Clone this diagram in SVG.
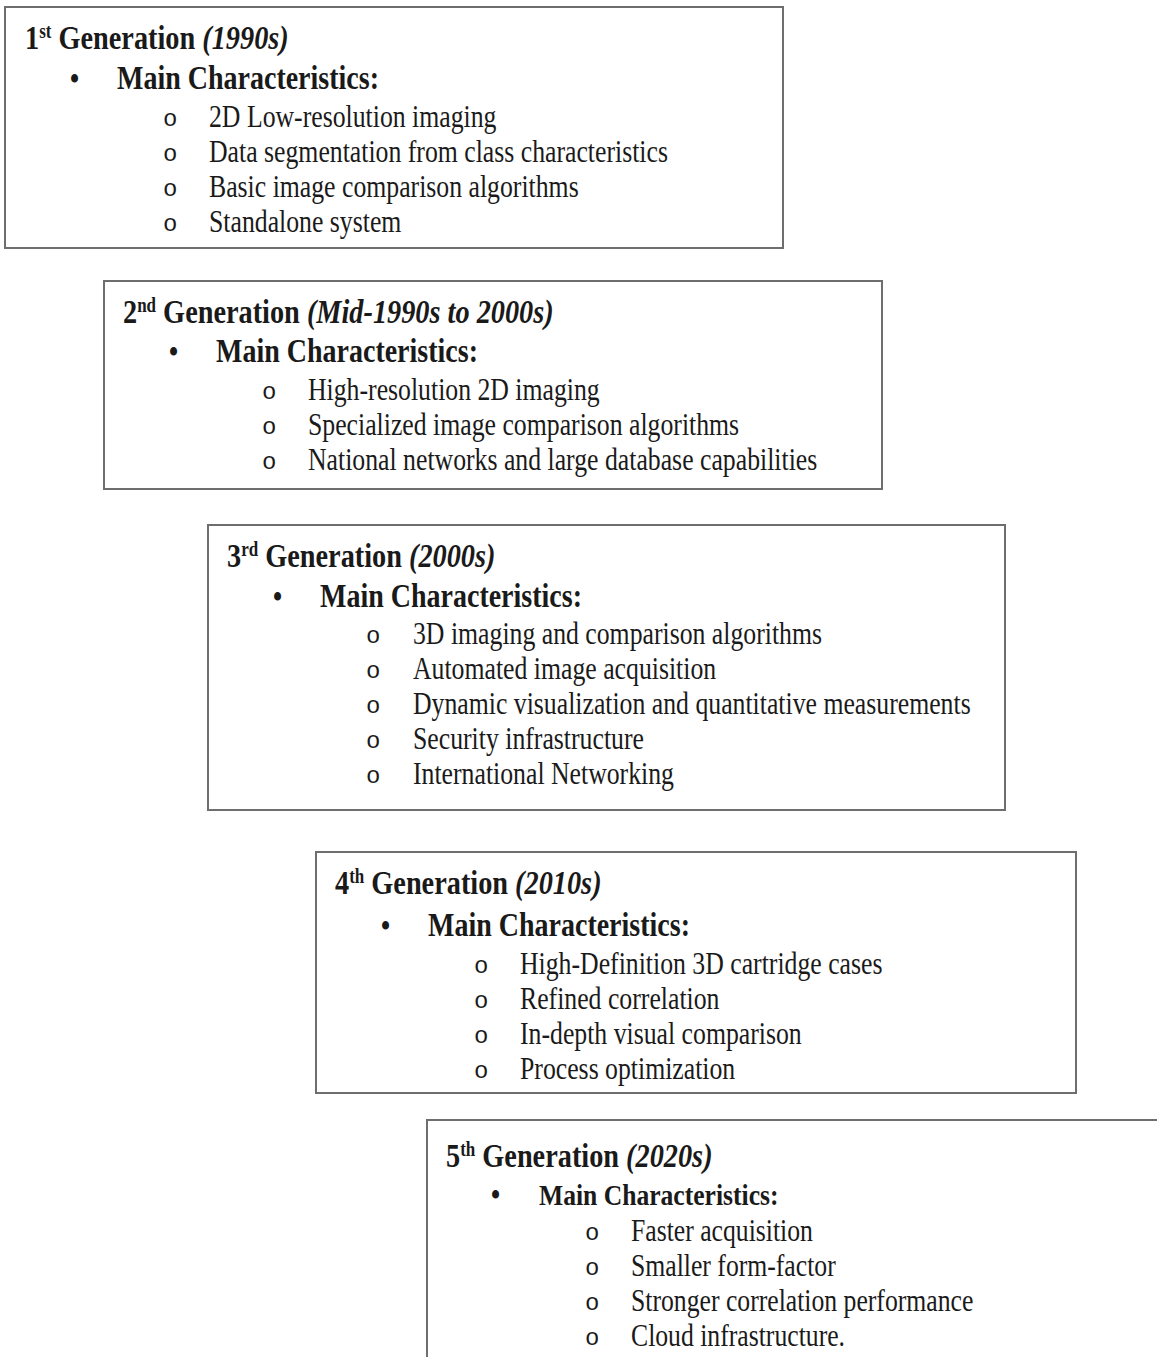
<svg xmlns="http://www.w3.org/2000/svg" width="1157" height="1357" viewBox="0 0 1157 1357">
<style>
.box{fill:#fff;stroke:#6e6e6e;stroke-width:2}
text{font-family:"Liberation Serif","Times New Roman",serif;fill:#1a1a1a}
.t{font-size:28.3px;font-weight:bold}
.i{font-style:italic}
.sup{font-size:17px}
.m{font-size:28px;font-weight:bold}
.b{font-size:25.75px}
.o{font-family:"Liberation Mono","Courier New",monospace;font-size:24px}
.d{font-size:26px;font-weight:bold}
.s5 .m{font-size:25.6px}
.s5 .b{font-size:25.7px}
</style>
<rect width="1157" height="1357" fill="#fff"/>
<g id="gen1">
<rect class="box" x="5" y="7" width="778" height="241"/>
<text class="t" transform="translate(25,49) scale(1,1.19)">1<tspan class="sup" dy="-9">st</tspan><tspan dy="9"> Generation </tspan><tspan class="i">(1990s)</tspan></text>
<text class="d" transform="translate(70,89) scale(1,1.19)">•</text>
<text class="m" transform="translate(117,89) scale(1,1.19)">Main Characteristics:</text>
<text class="o" x="163" y="126">o</text>
<text class="b" transform="translate(209,127) scale(1,1.19)">2D Low-resolution imaging</text>
<text class="o" x="163" y="161">o</text>
<text class="b" transform="translate(209,162) scale(1,1.19)">Data segmentation from class characteristics</text>
<text class="o" x="163" y="196">o</text>
<text class="b" transform="translate(209,197) scale(1,1.19)">Basic image comparison algorithms</text>
<text class="o" x="163" y="231">o</text>
<text class="b" transform="translate(209,232) scale(1,1.19)">Standalone system</text>
</g>
<g id="gen2">
<rect class="box" x="104" y="281" width="778" height="208"/>
<text class="t" transform="translate(123,323) scale(1,1.19)">2<tspan class="sup" dy="-9">nd</tspan><tspan dy="9"> Generation </tspan><tspan class="i">(Mid-1990s to 2000s)</tspan></text>
<text class="d" transform="translate(169,362) scale(1,1.19)">•</text>
<text class="m" transform="translate(216,362) scale(1,1.19)">Main Characteristics:</text>
<text class="o" x="262" y="399">o</text>
<text class="b" transform="translate(308,400) scale(1,1.19)">High-resolution 2D imaging</text>
<text class="o" x="262" y="434">o</text>
<text class="b" transform="translate(308,435) scale(1,1.19)">Specialized image comparison algorithms</text>
<text class="o" x="262" y="469">o</text>
<text class="b" transform="translate(308,470) scale(1,1.19)">National networks and large database capabilities</text>
</g>
<g id="gen3">
<rect class="box" x="208" y="525" width="797" height="285"/>
<text class="t" transform="translate(227,567) scale(1,1.19)">3<tspan class="sup" dy="-9">rd</tspan><tspan dy="9"> Generation </tspan><tspan class="i">(2000s)</tspan></text>
<text class="d" transform="translate(273,607) scale(1,1.19)">•</text>
<text class="m" transform="translate(320,607) scale(1,1.19)">Main Characteristics:</text>
<text class="o" x="366" y="643">o</text>
<text class="b" transform="translate(413,644) scale(1,1.19)">3D imaging and comparison algorithms</text>
<text class="o" x="366" y="678">o</text>
<text class="b" transform="translate(413,679) scale(1,1.19)">Automated image acquisition</text>
<text class="o" x="366" y="713">o</text>
<text class="b" transform="translate(413,714) scale(1,1.19)">Dynamic visualization and quantitative measurements</text>
<text class="o" x="366" y="748">o</text>
<text class="b" transform="translate(413,749) scale(1,1.19)">Security infrastructure</text>
<text class="o" x="366" y="783">o</text>
<text class="b" transform="translate(413,784) scale(1,1.19)">International Networking</text>
</g>
<g id="gen4">
<rect class="box" x="316" y="852" width="760" height="241"/>
<text class="t" transform="translate(335,894) scale(1,1.19)">4<tspan class="sup" dy="-9">th</tspan><tspan dy="9"> Generation </tspan><tspan class="i">(2010s)</tspan></text>
<text class="d" transform="translate(381,936) scale(1,1.19)">•</text>
<text class="m" transform="translate(428,936) scale(1,1.19)">Main Characteristics:</text>
<text class="o" x="474" y="973">o</text>
<text class="b" transform="translate(520,974) scale(1,1.19)">High-Definition 3D cartridge cases</text>
<text class="o" x="474" y="1008">o</text>
<text class="b" transform="translate(520,1009) scale(1,1.19)">Refined correlation</text>
<text class="o" x="474" y="1043">o</text>
<text class="b" transform="translate(520,1044) scale(1,1.19)">In-depth visual comparison</text>
<text class="o" x="474" y="1078">o</text>
<text class="b" transform="translate(520,1079) scale(1,1.19)">Process optimization</text>
</g>
<g id="gen5" class="s5">
<rect class="box" x="427" y="1120" width="740" height="250"/>
<text class="t" transform="translate(446,1167) scale(1,1.19)">5<tspan class="sup" dy="-9">th</tspan><tspan dy="9"> Generation </tspan><tspan class="i">(2020s)</tspan></text>
<text class="d" transform="translate(491,1205) scale(1,1.19)">•</text>
<text class="m" transform="translate(539,1205) scale(1,1.19)">Main Characteristics:</text>
<text class="o" x="585" y="1240">o</text>
<text class="b" transform="translate(631,1241) scale(1,1.19)">Faster acquisition</text>
<text class="o" x="585" y="1275">o</text>
<text class="b" transform="translate(631,1276) scale(1,1.19)">Smaller form-factor</text>
<text class="o" x="585" y="1310">o</text>
<text class="b" transform="translate(631,1311) scale(1,1.19)">Stronger correlation performance</text>
<text class="o" x="585" y="1345">o</text>
<text class="b" transform="translate(631,1346) scale(1,1.19)">Cloud infrastructure.</text>
</g>
<g id="connectors"/>
</svg>
